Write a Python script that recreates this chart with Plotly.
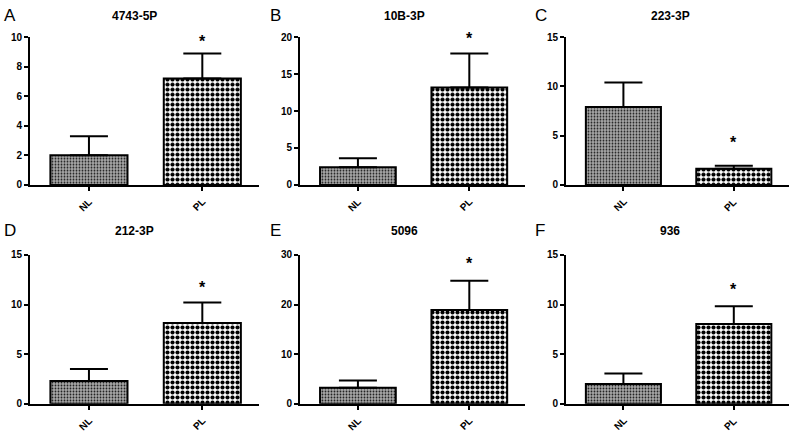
import plotly.graph_objects as go

# ---- data ----
categories = ["NL", "PL"]
panel_letters = ["A", "B", "C", "D", "E", "F"]
panel_titles = ["4743-5P", "10B-3P", "223-3P", "212-3P", "5096", "936"]
means_nl = [2.0, 2.4, 7.9, 2.3, 3.2, 2.0]
means_pl = [7.2, 13.2, 1.65, 8.15, 18.9, 8.05]
err_top_nl = [3.3, 3.6, 10.4, 3.5, 4.7, 3.05]
err_top_pl = [8.9, 17.8, 1.95, 10.2, 24.8, 9.83]
star_y = [9.7, 19.8, 4.3, 11.7, 28.2, 11.5]
star_cat = ["PL", "PL", "PL", "PL", "PL", "PL"]
y_max = [10, 20, 15, 15, 30, 15]
y_dtick = [2, 5, 5, 5, 10, 5]

W, H = 800, 436
FONT = "Arial, 'Liberation Sans', sans-serif"

# layout geometry (pixels)
cols = [(30, 259), (300, 525), (566, 789)]
rows = [(32, 184), (256, 409)]
title_px = [10.5, 231.5]

fig = go.Figure()
annotations = []
axes = {}
for i in range(6):
    r, c = divmod(i, 3)
    xl, xr = cols[c]
    yt, yb = rows[r]
    xa = "xaxis" if i == 0 else f"xaxis{i+1}"
    ya = "yaxis" if i == 0 else f"yaxis{i+1}"
    xref = "x" if i == 0 else f"x{i+1}"
    yref = "y" if i == 0 else f"y{i+1}"

    vals = [means_nl[i], means_pl[i]]
    errs = [err_top_nl[i] - means_nl[i], err_top_pl[i] - means_pl[i]]
    patterns = [
        dict(shape=".", fgcolor="#202020", bgcolor="#a8a8a8", size=3,
             solidity=0.3, fgopacity=1),
        dict(shape=".", fgcolor="black", bgcolor="white", size=5,
             solidity=0.55, fgopacity=1),
    ]
    for k in range(2):
        fig.add_trace(go.Bar(
            x=[categories[k]], y=[vals[k]], width=0.68,
            xaxis=xref, yaxis=yref,
            marker=dict(color="white", pattern=patterns[k],
                        line=dict(color="black", width=2)),
            error_y=dict(type="data", symmetric=False, array=[errs[k]],
                         arrayminus=[0], color="black", thickness=2, width=19),
            showlegend=False, hoverinfo="skip",
        ))

    axes[xa] = dict(
        domain=[xl / W, xr / W], anchor=yref,
        range=[-0.52, 1.5], type="category",
        showline=True, linecolor="black", linewidth=2,
        ticks="outside", ticklen=4, tickwidth=2, tickcolor="black",
        showticklabels=False, showgrid=False, zeroline=False,
        fixedrange=True,
    )
    axes[ya] = dict(
        domain=[1 - yb / H, 1 - yt / H], anchor=xref,
        range=[0, y_max[i]], dtick=y_dtick[i], tick0=0,
        showline=True, linecolor="black", linewidth=2,
        ticks="outside", ticklen=4, tickwidth=2, tickcolor="black",
        showgrid=False, zeroline=False, fixedrange=True,
        tickfont=dict(family=FONT, size=10, color="black", weight="bold"),
    )

    # rotated category labels, placed on the category axis
    for k, cat in enumerate(categories):
        annotations.append(dict(
            text=cat, xref=xref, yref=yref, x=cat, y=0,
            xanchor="center", yanchor="middle", textangle=-45,
            xshift=-3, yshift=-20, showarrow=False,
            font=dict(family=FONT, size=10, color="black", weight="bold"),
        ))

    annotations.append(dict(
        text=panel_titles[i], xref="paper", yref="paper",
        x=(xl + 104) / W, y=1 - title_px[r] / H,
        xanchor="center", yanchor="middle", showarrow=False,
        font=dict(family=FONT, size=12, color="black", weight="bold"),
    ))
    annotations.append(dict(
        text=panel_letters[i], xref="paper", yref="paper",
        x=(c * 266 + (2 if c < 2 else 1)) / W, y=1 - (title_px[r] - 1) / H,
        xanchor="left", yanchor="middle", showarrow=False,
        font=dict(family=FONT, size=17, color="black"),
    ))
    annotations.append(dict(
        text="*", xref=xref, yref=yref,
        x=star_cat[i], y=star_y[i],
        xanchor="center", yanchor="middle", yshift=0, showarrow=False,
        font=dict(family=FONT, size=16, color="black", weight="bold"),
    ))

fig.update_layout(
    width=W, height=H, margin=dict(l=0, r=0, t=0, b=0),
    paper_bgcolor="white", plot_bgcolor="white",
    barmode="overlay", annotations=annotations,
    font=dict(family=FONT), hovermode=False,
    **axes,
)

fig.write_html(
    "out.html",
    config={"displayModeBar": False, "staticPlot": True},
    post_script="document.body.style.margin='0';document.body.style.overflow='hidden';",
)
